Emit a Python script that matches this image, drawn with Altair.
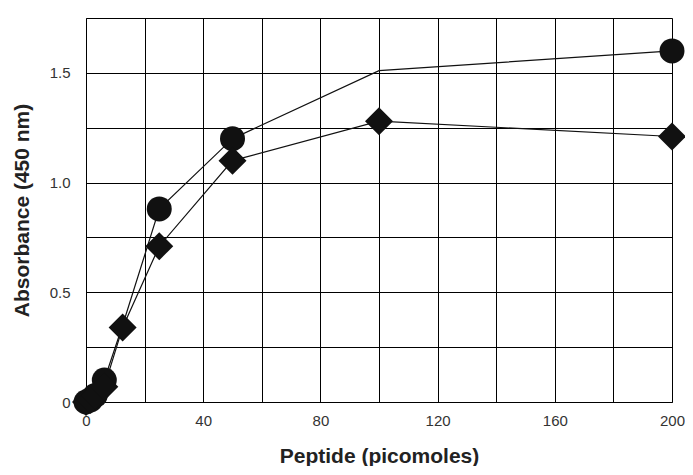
import altair as alt
import pandas as pd

# Data
circle_x = [0, 1.56, 3.125, 6.25, 12.5, 25, 50, 100, 200]
circle_y = [0, 0.01, 0.03, 0.10, 0.35, 0.88, 1.20, 1.51, 1.60]
circle_shown = [True, True, True, True, False, True, True, False, True]

diamond_x = [0, 1.56, 3.125, 6.25, 12.5, 25, 50, 100, 200]
diamond_y = [0, 0.01, 0.03, 0.07, 0.34, 0.71, 1.10, 1.28, 1.21]
diamond_shown = [True, True, True, True, True, True, True, True, True]

x_ticks = list(range(0, 201, 20))
y_ticks = [0, 0.25, 0.5, 0.75, 1.0, 1.25, 1.5, 1.75]

rows = []
for x, y, s in zip(circle_x, circle_y, circle_shown):
    rows.append({"series": "circle", "x": x, "y": y, "shown": s})
for x, y, s in zip(diamond_x, diamond_y, diamond_shown):
    rows.append({"series": "diamond", "x": x, "y": y, "shown": s})
df = pd.DataFrame(rows)

xenc = alt.X(
    "x:Q",
    scale=alt.Scale(domain=[0, 200], nice=False),
    axis=alt.Axis(
        values=x_ticks,
        labelExpr="datum.value % 40 == 0 ? datum.label : ''",
        title="Peptide (picomoles)",
        ticks=False, tickSize=0, labelPadding=11, titlePadding=17,
        grid=True, gridColor="#000", gridWidth=1, gridOpacity=1,
        domainColor="#000", labelFont="Liberation Sans", labelFontSize=15,
        labelColor="#333", titleFont="Liberation Sans", titleFontSize=21,
        titleFontWeight="bold", titleColor="#222", labelFlush=False,
    ),
)
yenc = alt.Y(
    "y:Q",
    scale=alt.Scale(domain=[0, 1.75], nice=False),
    axis=alt.Axis(
        values=y_ticks,
        labelExpr="datum.value % 0.5 == 0 ? (datum.value == 0 ? '0' : format(datum.value, '.1f')) : ''",
        title="Absorbance (450 nm)",
        ticks=False, tickSize=0, labelPadding=16,
        titleX=-64, titleBaseline="middle",
        grid=True, gridColor="#000", gridWidth=1, gridOpacity=1,
        domainColor="#000", labelFont="Liberation Sans", labelFontSize=15,
        labelColor="#333", titleFont="Liberation Sans", titleFontSize=21,
        titleFontWeight="bold", titleColor="#222", labelFlush=False,
    ),
)

base = alt.Chart(df)

lines = base.mark_line(color="#111", strokeWidth=1.2).encode(
    x=xenc, y=yenc, detail="series:N", order="x:Q"
)

points = base.transform_filter("datum.shown").mark_point(
    filled=True, color="#111", opacity=1
).encode(
    x="x:Q",
    y="y:Q",
    shape=alt.Shape("series:N", scale=alt.Scale(domain=["circle", "diamond"], range=["circle", "diamond"]), legend=None),
    size=alt.Size("series:N", scale=alt.Scale(domain=["circle", "diamond"], range=[625, 784]), legend=None),
)

chart = alt.layer(lines, points).properties(
    width=586, height=384,
    autosize=alt.AutoSizeParams(type="none"),
    padding={"left": 78, "top": 10, "right": 13, "bottom": 64},
).configure_view(stroke="#000", strokeWidth=1).configure(background="white")

chart.save("out.html", embed_options={"renderer": "svg", "actions": False})
